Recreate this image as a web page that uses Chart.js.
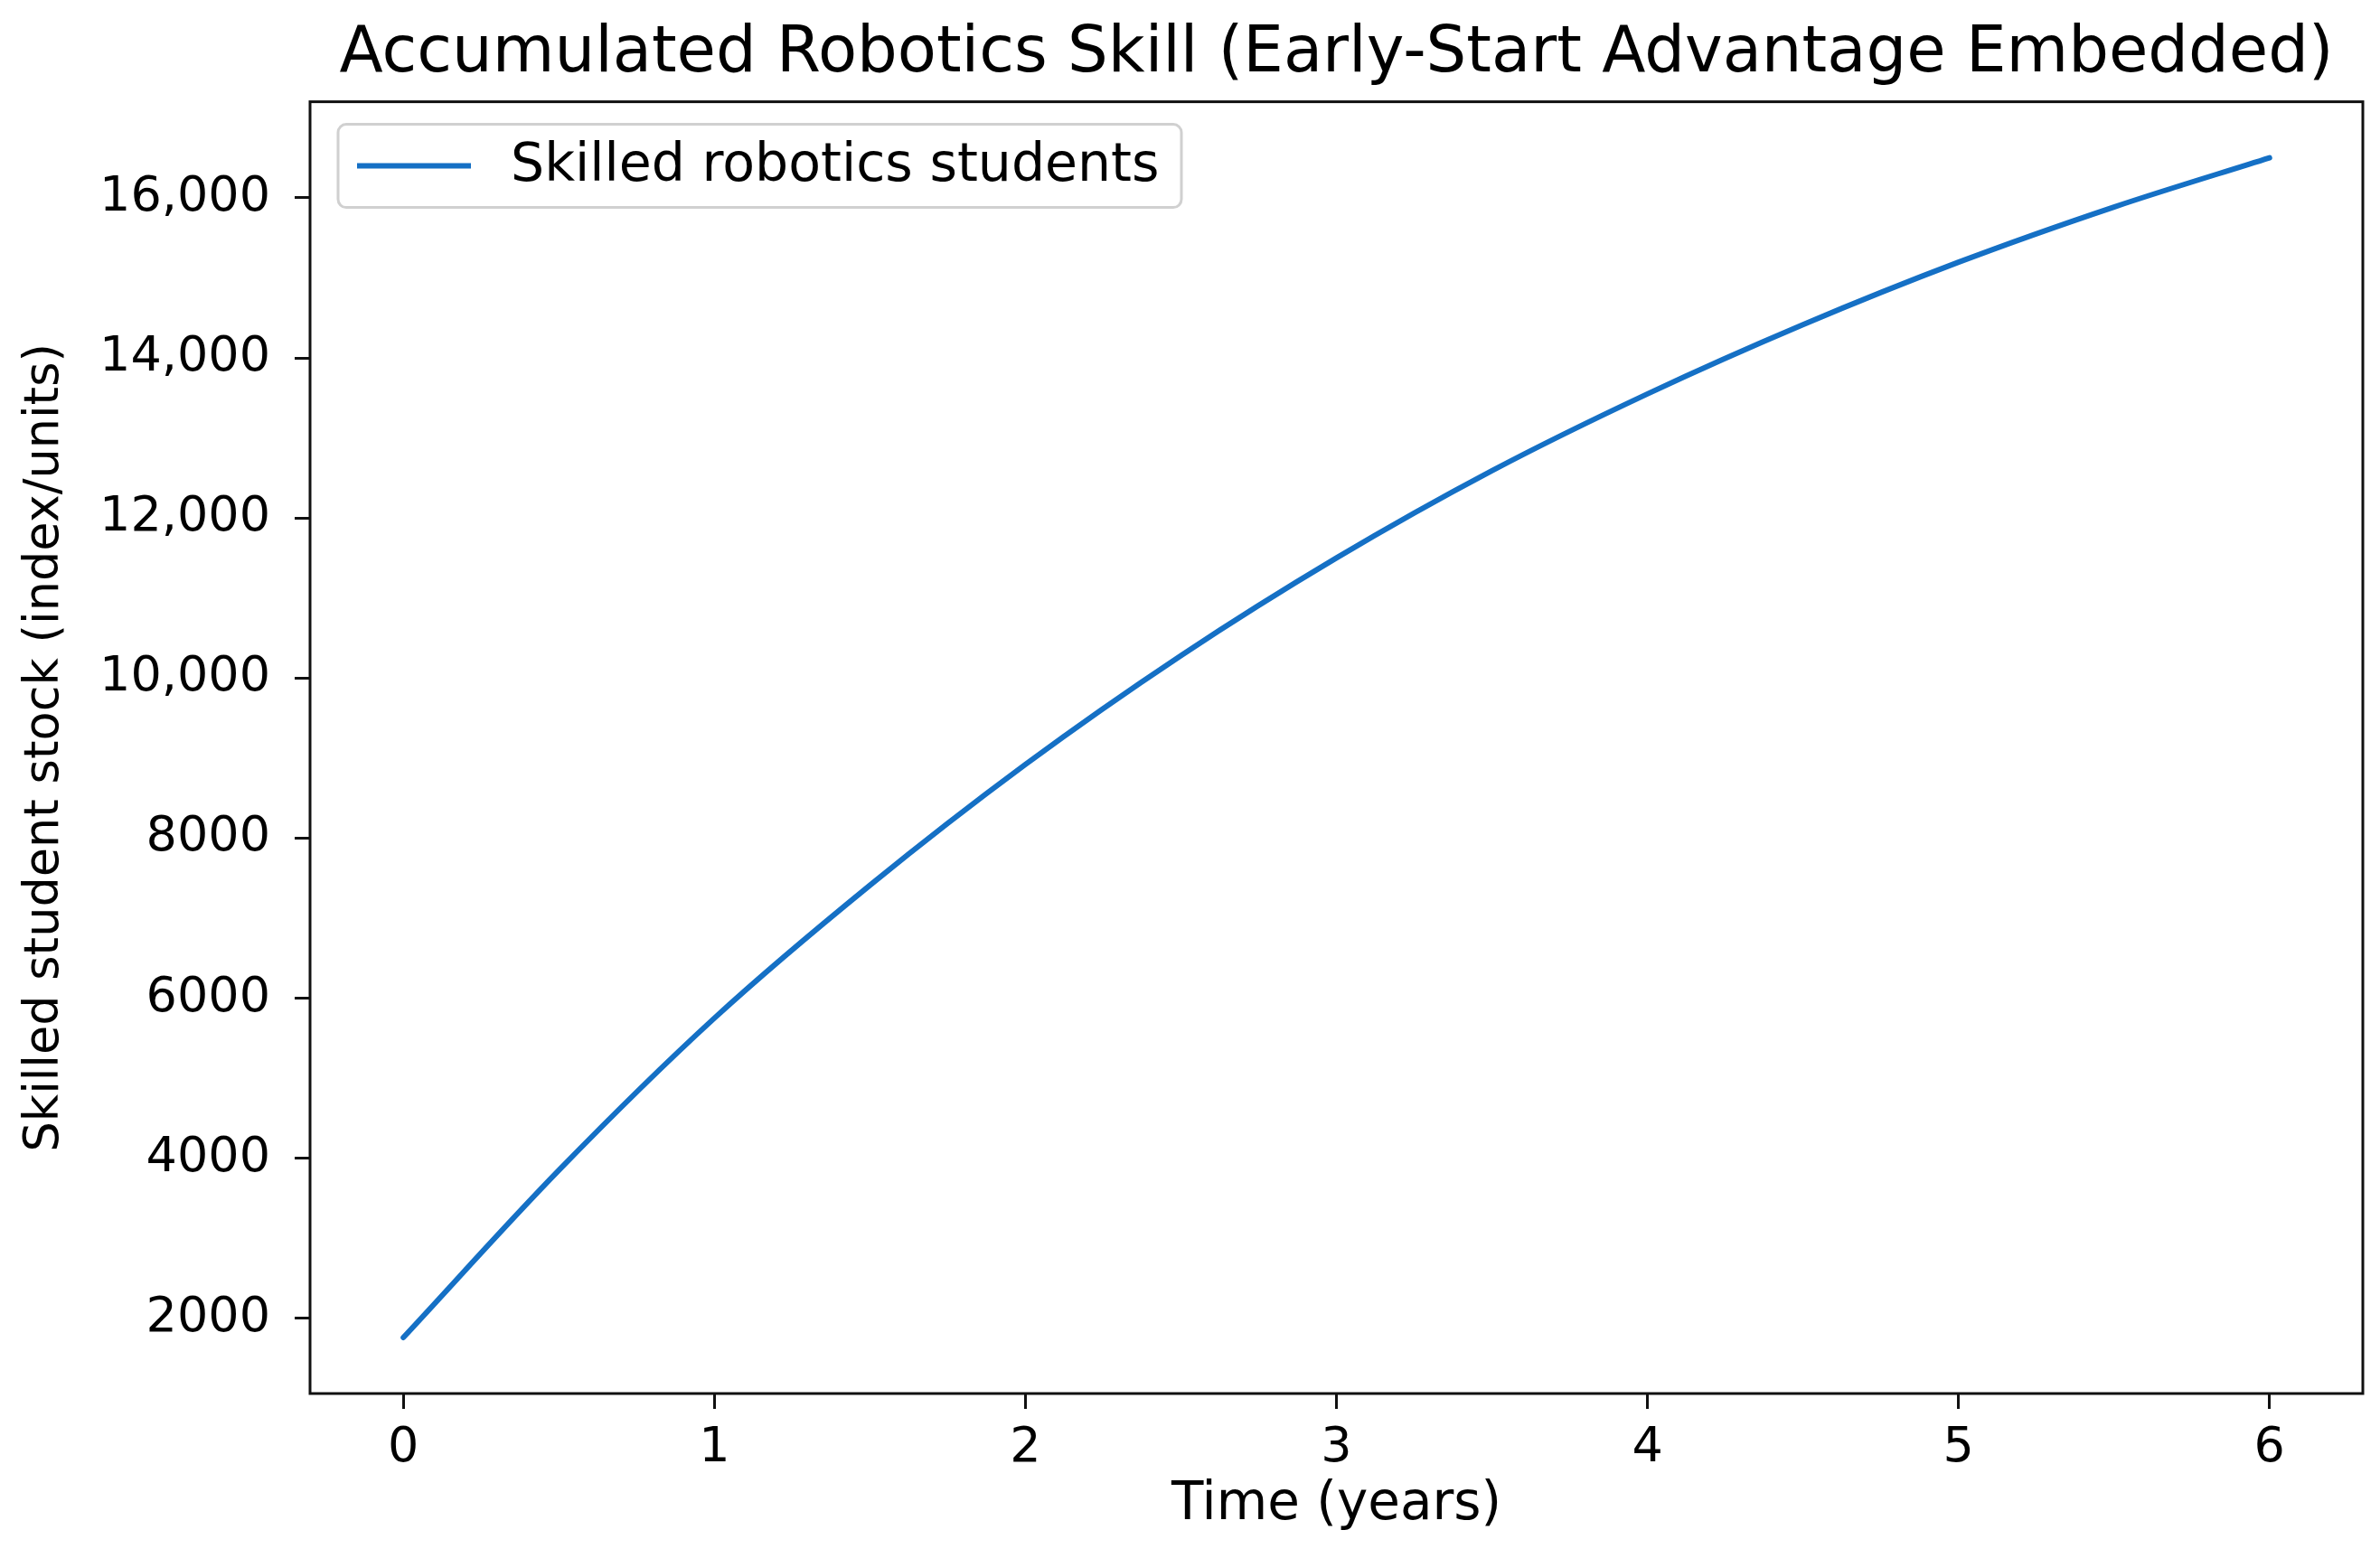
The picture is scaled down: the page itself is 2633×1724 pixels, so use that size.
<!DOCTYPE html>
<html>
<head>
<meta charset="utf-8">
<title>Accumulated Robotics Skill</title>
<script src="https://cdn.jsdelivr.net/npm/chart.js@4.4.1/dist/chart.umd.min.js"></script>
<style>
  html, body { margin: 0; padding: 0; background: #fff; }
  #wrap { width: 2633px; height: 1724px; }
</style>
</head>
<body>
<div id="wrap"><canvas id="chart" width="2633" height="1724"></canvas></div>
<script>
// Data
const years = [0, 0.5, 1, 1.5, 2, 2.5, 3, 3.5, 4, 4.5, 5, 5.5, 6];
const skilledStudents = [1760, 3850, 5750, 7410, 8920, 10280, 11500, 12590, 13550, 14415, 15195, 15885, 16500];
const xTicks = [0, 1, 2, 3, 4, 5, 6];
const yTicks = [2000, 4000, 6000, 8000, 10000, 12000, 14000, 16000];

const chartTitle = 'Accumulated Robotics Skill (Early-Start Advantage Embedded)';
const seriesLabel = 'Skilled robotics students';
const xLabel = 'Time (years)';
const yLabel = 'Skilled student stock (index/units)';

const lineColor = '#1570c5';
const axisColor = '#111';

Chart.defaults.font.family = "'DejaVu Sans', sans-serif";
Chart.defaults.color = '#000';

// matplotlib style: commas only from five digits up
function formatY(v) {
    return v >= 10000 ? v.toLocaleString('en-US') : String(v);
}

// Box around the plot area (top and right sides too),
// and keep the title centred over the plot rather than the canvas
const frame = {
    id: 'frame',
    afterLayout(chart) {
        const a = chart.chartArea;
        if (chart.titleBlock) {
            chart.titleBlock.left = a.left;
            chart.titleBlock.right = a.right;
        }
    },
    afterDraw(chart) {
        const a = chart.chartArea;
        const ctx = chart.ctx;
        ctx.save();
        ctx.strokeStyle = axisColor;
        ctx.lineWidth = 3;
        ctx.strokeRect(a.left, a.top, a.right - a.left, a.bottom - a.top);
        ctx.restore();
    }
};

// Legend drawn inside the plot, upper left, like matplotlib
const innerLegend = {
    id: 'innerLegend',
    afterDraw(chart) {
        const ctx = chart.ctx;
        const a = chart.chartArea;
        const ds = chart.data.datasets[0];
        const x = a.left + 31, y = a.top + 25, w = 933, h = 92;
        ctx.save();
        ctx.beginPath();
        ctx.roundRect(x, y, w, h, 9);
        ctx.fillStyle = 'rgba(255,255,255,0.85)';
        ctx.fill();
        ctx.strokeStyle = '#d0d0d0';
        ctx.lineWidth = 3;
        ctx.stroke();

        const cy = y + h / 2;
        ctx.beginPath();
        ctx.moveTo(x + 21, cy);
        ctx.lineTo(x + 147, cy);
        ctx.strokeStyle = ds.borderColor;
        ctx.lineWidth = ds.borderWidth;
        ctx.stroke();

        ctx.fillStyle = '#000';
        ctx.font = "58.5px 'DejaVu Sans'";
        ctx.textBaseline = 'middle';
        ctx.fillText(ds.label, x + 191, cy + 1);
        ctx.restore();
    }
};

const ctx = document.getElementById('chart').getContext('2d');
const chart = new Chart(ctx, {
    type: 'line',
    data: {
        datasets: [{
            label: seriesLabel,
            data: years.map((t, i) => ({ x: t, y: skilledStudents[i] })),
            borderColor: lineColor,
            borderWidth: 6,
            pointRadius: 0,
            cubicInterpolationMode: 'monotone',
            borderCapStyle: 'round',
            fill: false
        }]
    },
    options: {
        responsive: false,
        animation: false,
        devicePixelRatio: 1,
        layout: { padding: { top: 0, right: 19, bottom: 0, left: 0 } },
        plugins: {
            legend: { display: false },
            tooltip: { enabled: false },
            title: {
                display: true,
                text: chartTitle,
                color: '#000',
                font: { size: 70.5, weight: 'normal' },
                padding: { top: 18, bottom: 10 }
            }
        },
        scales: {
            x: {
                type: 'linear',
                min: -0.3,
                max: 6.3,
                afterBuildTicks: s => { s.ticks = xTicks.map(v => ({ value: v })); },
                afterFit: s => { s.height = 182; },
                grid: {
                    drawOnChartArea: false,
                    drawTicks: true,
                    tickLength: 17,
                    tickWidth: 3,
                    tickColor: axisColor
                },
                border: { display: false },
                ticks: {
                    color: '#000',
                    font: { size: 54 },
                    padding: 12,
                    maxRotation: 0,
                    callback: v => String(v)
                },
                title: {
                    display: true,
                    text: xLabel,
                    color: '#000',
                    font: { size: 58 },
                    padding: { top: 0, bottom: 23 }
                }
            },
            y: {
                type: 'linear',
                min: 1060,
                max: 17200,
                afterBuildTicks: s => { s.ticks = yTicks.map(v => ({ value: v })); },
                afterFit: s => { s.width = 343; },
                grid: {
                    drawOnChartArea: false,
                    drawTicks: true,
                    tickLength: 17,
                    tickWidth: 3,
                    tickColor: axisColor
                },
                border: { display: false },
                ticks: {
                    color: '#000',
                    font: { size: 54 },
                    padding: 27,
                    callback: v => formatY(v)
                },
                title: {
                    display: true,
                    text: yLabel,
                    color: '#000',
                    font: { size: 52.5 },
                    padding: { top: 19, bottom: 0 }
                }
            }
        }
    },
    plugins: [frame, innerLegend]
});
</script>
</body>
</html>
